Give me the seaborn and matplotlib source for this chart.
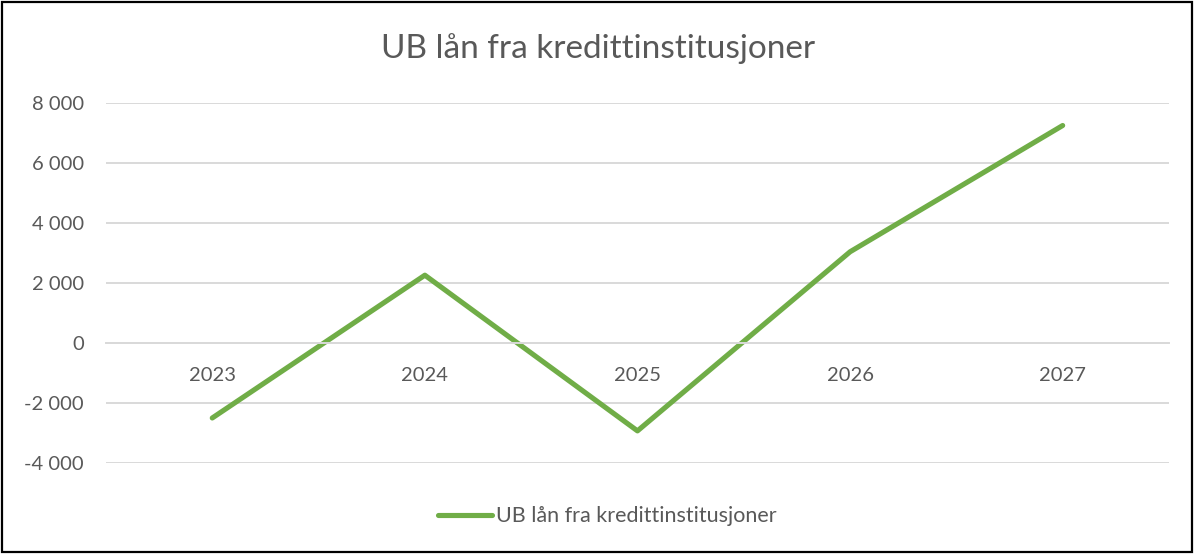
import matplotlib
matplotlib.use("Agg")
import numpy as np
import pandas as pd
import seaborn as sns
from matplotlib import pyplot as plt
from matplotlib.patches import Rectangle

# data
years = ["2023", "2024", "2025", "2026", "2027"]
ub_laan = [-2500, 2260, -2930, 3040, 7250]
series_name = "UB lån fra kredittinstitusjoner"
y_ticks = [-4000, -2000, 0, 2000, 4000, 6000, 8000]

sns.set_style("white")
plt.rcParams['font.family'] = ['Lato', 'DejaVu Sans']

text_col = '#595959'
grid_col = '#D9D9D9'
line_col = '#70AD47'

df = pd.DataFrame({'year': years, 'value': ub_laan})

fig = plt.figure(figsize=(11.96, 5.55), dpi=100)
ax = fig.add_axes([0.0886, 0.1658, 0.8888, 0.6486])

sns.lineplot(data=df, x='year', y='value', ax=ax, color=line_col,
             linewidth=3.7, solid_capstyle='round', label=series_name,
             legend=False)

ax.set_xlim(-0.5, len(years) - 0.5)
ax.set_ylim(-4000, 8000)
ax.set_yticks(y_ticks)
ax.set_yticklabels([f"{v:,}".replace(",", " ") for v in y_ticks])
ax.yaxis.grid(True, color=grid_col, linewidth=1.4)
ax.set_axisbelow(True)
for s in ['top', 'right', 'left']:
    ax.spines[s].set_visible(False)
ax.spines['bottom'].set_position(('data', 0))
ax.spines['bottom'].set_color(grid_col)
ax.spines['bottom'].set_linewidth(1.4)
ax.tick_params(axis='x', length=0, pad=17, labelsize=14.5, labelcolor=text_col)
ax.tick_params(axis='y', length=0, pad=16, labelsize=14.5, labelcolor=text_col)
ax.set_xlabel('')
ax.set_ylabel('')

fig.text(0.5, 0.913, series_name, ha='center', va='center',
         fontsize=24, color=text_col)

handles, labels = ax.get_legend_handles_labels()
leg = fig.legend(handles, labels, loc='center', bbox_to_anchor=(0.508, 0.07),
                 frameon=False, fontsize=15.5, handlelength=2.5,
                 handletextpad=0.2, labelcolor=text_col)

# chart frame
fig.patches.append(Rectangle((0.002, 0.006), 0.995, 0.99, transform=fig.transFigure,
                             fill=False, edgecolor='black', linewidth=1.6))

fig.savefig('out.png', dpi=100, facecolor='white')
